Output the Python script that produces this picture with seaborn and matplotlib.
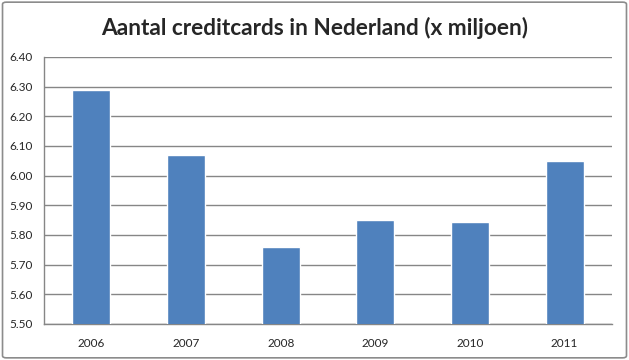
import matplotlib
matplotlib.use("Agg")
import matplotlib.pyplot as plt
import seaborn as sns
import pandas as pd
from matplotlib.patches import FancyBboxPatch

# data
years = ["2006", "2007", "2008", "2009", "2010", "2011"]
cards = [6.29, 6.07, 5.76, 5.85, 5.845, 6.05]

df = pd.DataFrame({"jaar": years, "aantal": cards})

sns.set_style("white")
plt.rcParams["font.family"] = ["Lato", "DejaVu Sans"]

fig = plt.figure(figsize=(6.29, 3.6), dpi=100)
ax = fig.add_axes([0.070, 0.10, 0.903, 0.742])

sns.barplot(data=df, x="jaar", y="aantal", color="#4F81BD", width=0.4,
            saturation=1, ax=ax, zorder=3)

grid_col = "#868686"
ax.set_ylim(5.5, 6.4)
ax.set_yticks([5.5 + 0.1 * i for i in range(10)])
ax.set_yticklabels([f"{5.5 + 0.1 * i:.2f}" for i in range(10)], fontsize=8.5)
ax.yaxis.grid(True, color=grid_col, linewidth=1, zorder=0)
ax.set_xlim(-0.5, 5.5)
ax.set_xticks([i - 0.5 for i in range(7)], minor=True)
ax.tick_params(axis="x", which="major", length=0, labelsize=8.5, pad=10)
ax.tick_params(axis="x", which="minor", length=5, color=grid_col, direction="out")
ax.tick_params(axis="y", length=5, color=grid_col, direction="out", pad=3)
ax.set_xlabel("")
ax.set_ylabel("")

for side in ["top", "right"]:
    ax.spines[side].set_visible(False)
for side in ["left", "bottom"]:
    ax.spines[side].set_color(grid_col)
    ax.spines[side].set_linewidth(1)

fig.text(0.5, 0.922, "Aantal creditcards in Nederland (x miljoen)",
         ha="center", va="center", fontsize=16.3, fontweight="bold")

border = FancyBboxPatch((0.004, 0.006), 0.992, 0.988, boxstyle="round,pad=0,rounding_size=0.006",
                        transform=fig.transFigure, fill=False, edgecolor="#8c8c8c", linewidth=1.2)
fig.patches.append(border)

fig.savefig("out.png", dpi=100)
